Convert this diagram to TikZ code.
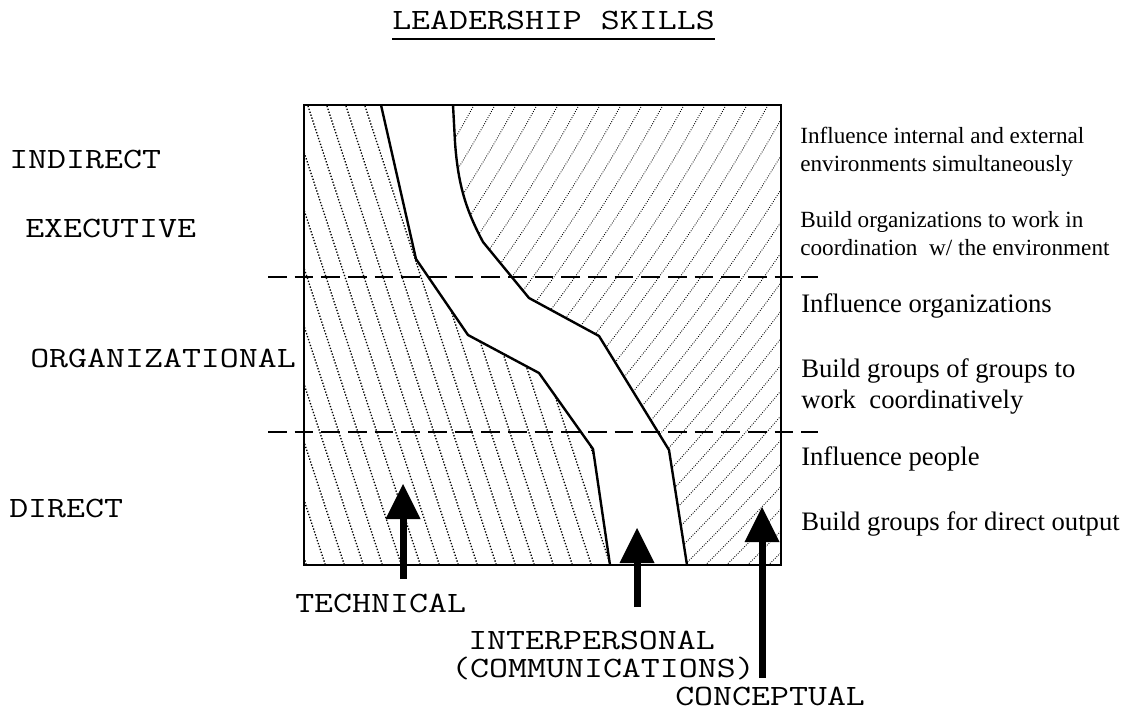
\documentclass[tikz,border=0pt]{standalone}
\usepackage{fontspec}
\newfontfamily\cour{Latin Modern Mono}[FakeStretch=1.25]
\newfontfamily\tnr{Liberation Serif}
\usetikzlibrary{arrows.meta}
\begin{document}
\begin{tikzpicture}[x=0.75pt,y=-0.75pt,
  mono/.style={font=\cour\fontsize{22.1}{26}\selectfont,inner sep=0pt,anchor=base west},
  desca/.style={font=\tnr\fontsize{17.4}{21}\selectfont,inner sep=0pt,anchor=base west},
  descb/.style={font=\tnr\fontsize{20}{24}\selectfont,inner sep=0pt,anchor=base west},
  frame/.style={line width=1.6pt},
  band/.style={line width=1.8pt,line join=round},
  level/.style={line width=2.2pt,dash pattern=on 14pt off 6pt},
  lhatch/.style={line width=1pt,dash pattern=on 1pt off 1.3pt},
  rhatch/.style={line width=0.65pt,dash pattern=on 0.65pt off 1.1pt},
  skill/.style={line width=5.25pt,-{Triangle[width=26.25pt,length=26.25pt,line width=0pt]}}]
\useasboundingbox (0,0) rectangle (1124,710);

% frame corners
\coordinate (tl) at (304,105);
\coordinate (tr) at (781,105);
\coordinate (br) at (781,565);
\coordinate (bl) at (304,565);
% left band boundary
\coordinate (L0) at (381,105);
\coordinate (L1) at (416,259);
\coordinate (L2) at (468,335);
\coordinate (L3) at (539,373);
\coordinate (L4) at (593,449);
\coordinate (L5) at (610,565);
% right band boundary
\coordinate (R0) at (453,105);
\coordinate (R1) at (455,142);
\coordinate (R2) at (483,242);
\coordinate (R3) at (529,298);
\coordinate (R4) at (599,336);
\coordinate (R5) at (669,450);
\coordinate (R6) at (687,565);

% left hatching
\begin{scope}
  \clip (tl) -- (L0) -- (L1) -- (L2) -- (L3) -- (L4) -- (L5) -- (bl) -- cycle;
  \foreach \k in {-10,...,18} {
    \draw[lhatch] ({306+19*\k},100) -- ++(154,470);
  }
\end{scope}
% right hatching
\begin{scope}
  \clip (R0) -- (R1) .. controls (458,185) and (466,210) .. (R2) -- (R3) -- (R4) -- (R5) -- (R6) -- (br) -- (tr) -- cycle;
  \foreach \k in {0,...,34} {
    \pgfmathsetmacro\c{453+21*\k}
    \draw[rhatch] (\c,105) .. controls ({\c-84.33},258.33) and ({\c-203.17},411.67) .. ({\c-356.5},565);
  }
\end{scope}

% frame and band
\draw[frame] (tl) rectangle (br);
\draw[band] (L0) -- (L1) -- (L2) -- (L3) -- (L4) -- (L5);
\draw[band] (R0) -- (R1) .. controls (458,185) and (466,210) .. (R2) -- (R3) -- (R4) -- (R5) -- (R6);

% level separators
\coordinate (d1a) at (268,277); \coordinate (d1b) at (818,277);
\coordinate (d2a) at (268,432); \coordinate (d2b) at (818,432);
\draw[level] (d1a) -- (d1b);
\draw[level] (d2a) -- (d2b);

% title
\node[mono] (title) at (392,30) {LEADERSHIP SKILLS};
\draw[line width=1.5pt] (title.south west |- 0,39) -- (title.south east |- 0,39);

% level labels
\node[mono] (indirect) at (9,168) {INDIRECT};
\node[mono] (exec) at (25,237) {EXECUTIVE};
\node[mono] (org) at (30,367) {ORGANIZATIONAL};
\node[mono] (direct) at (9,517) {DIRECT};

% descriptions
\node[desca] (t1) at (800,143) {Influence internal and external};
\node[desca] (t2) at (800,171) {environments simultaneously};
\node[desca] (t3) at (800,227) {Build organizations to work in};
\node[desca] (t4) at (800,255) {coordination\ \ w/ the environment};
\node[descb] (t5) at (801,312) {Influence organizations};
\node[descb] (t6) at (801,377) {Build groups of groups to};
\node[descb] (t7) at (801,408) {work\ \ coordinatively};
\node[descb] (t8) at (801,465) {Influence people};
\node[descb] (t9) at (801,530) {Build groups for direct output};

% skill labels
\node[mono] (tech) at (295,612) {TECHNICAL};
\node[mono] (inter) at (468,649) {INTERPERSONAL};
\node[mono] (comm) at (451,677) {(COMMUNICATIONS)};
\node[mono] (conc) at (675,705) {CONCEPTUAL};

% skill arrows
\coordinate (a1s) at (403,579); \coordinate (a1e) at (403,484);
\coordinate (a2s) at (637,607); \coordinate (a2e) at (637,528);
\coordinate (a3s) at (762,678); \coordinate (a3e) at (762,507);
\draw[skill] (a1s) -- (a1e);
\draw[skill] (a2s) -- (a2e);
\draw[skill] (a3s) -- (a3e);
\end{tikzpicture}
\end{document}
